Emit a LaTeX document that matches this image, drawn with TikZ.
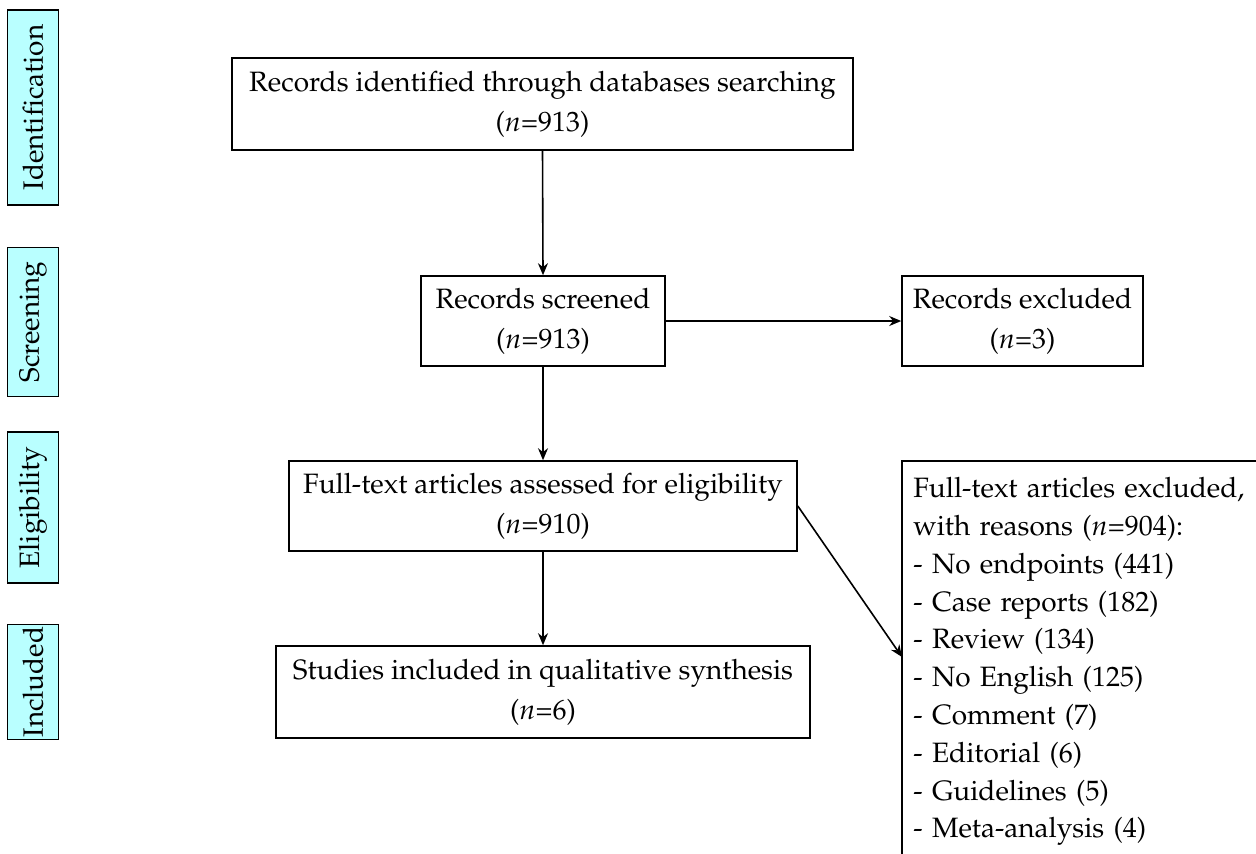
\documentclass[tikz,border=0pt]{standalone}
\usepackage[T1]{fontenc}
\usepackage{mathpazo}
\usetikzlibrary{arrows.meta}
\definecolor{phasecyan}{RGB}{185,255,255}
\begin{document}
\begin{tikzpicture}
  [x=0.5pt,y=-0.5pt,
   font=\fontsize{14}{20}\selectfont,
   frame/.style={line width=0.8pt},
   box/.style={draw,frame,align=center,inner sep=2pt},
   phase/.style={draw,frame,fill=phasecyan,rotate=90,
     minimum height=25.5pt,inner sep=1pt},
   arr/.style={line width=0.8pt,-{Stealth[length=6pt,width=5pt]}}]
  \useasboundingbox (0,0) rectangle (1256,853);

  % phase labels
  \node[phase,minimum width=97.5pt] (lid)  at (33,107.5) {Identification};
  \node[phase,minimum width=74.5pt] (lscr) at (33,322)   {Screening};
  \node[phase,minimum width=75.5pt] (lel)  at (33,507.5) {Eligibility};
  \node[phase,minimum width=55pt]   (linc) at (33,682)   {Included};

  % flow boxes
  \node[box,minimum width=310.5pt,minimum height=46pt] (ident) at (542.5,104)
    {Records identified through databases searching\\($n$=913)};
  \node[box,minimum width=122pt,minimum height=45pt] (scr) at (543,321)
    {Records screened\\($n$=913)};
  \node[box,minimum width=120.5pt,minimum height=45pt] (rex) at (1022.5,321)
    {Records excluded\\($n$=3)};
  \node[box,minimum width=254pt,minimum height=45pt] (ftx) at (543,506)
    {Full-text articles assessed for eligibility\\($n$=910)};
  \node[box,minimum width=267pt,minimum height=46pt] (incl) at (543,692)
    {Studies included in qualitative synthesis\\($n$=6)};

  % exclusion list, its frame runs past the page
  \node[anchor=north west,align=left,text width=180pt,
    font=\fontsize{14}{18.9}\selectfont,
    inner xsep=5.5pt,inner ysep=8pt] (exft) at (902,461)
    {Full-text articles excluded,\\
     with reasons ($n$=904):\\
     - No endpoints (441)\\
     - Case reports (182)\\
     - Review (134)\\
     - No English (125)\\
     - Comment (7)\\
     - Editorial (6)\\
     - Guidelines (5)\\
     - Meta-analysis (4)};
  \draw[frame] (exft.north east) -- (exft.north west) -- ++(0,500);
  \coordinate (exin) at (902,657);

  \foreach \from/\to in {ident/scr, scr/ftx, ftx/incl}
    \draw[arr] (\from.south) -- (\to.north);
  \draw[arr] (scr) -- (rex);
  \draw[arr] (ftx.east) -- (exin);
\end{tikzpicture}
\end{document}
